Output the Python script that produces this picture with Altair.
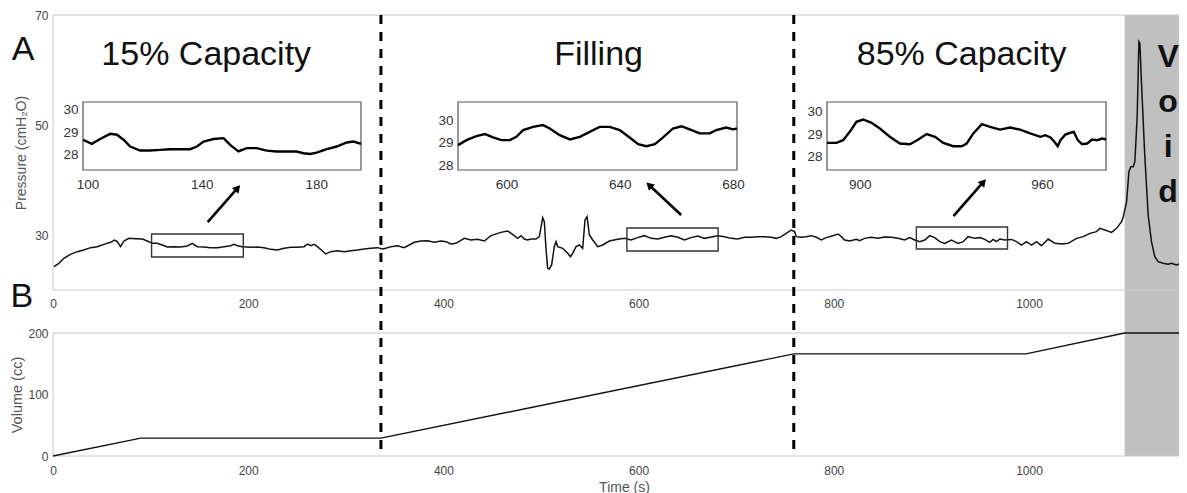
import math
import altair as alt
import pandas as pd

# ---------------- data ----------------
press_t = [0.9, 6, 11.1, 17.9, 24.8, 31.6, 38.5, 45.3, 52.1, 58.9, 63.1, 65.8, 69.2, 72.6, 77.8, 84.6, 91.5, 96.6,
           101.7, 106.8, 112, 117.1, 123.9, 130.8, 137.6, 142.7, 147.9, 154.7, 161.5, 168.4, 175.2, 182.1, 185.5,
           188.9, 194, 202.6, 209.4, 216.2, 223.1, 229.9, 236.8, 243.6, 250.4, 257.3, 260.7, 264.1, 267.5, 270.9,
           276.1, 279.5, 284.6, 291.5, 298.3, 305.1, 312, 318.8, 325.6, 332.5, 337.6, 341, 346.2, 353, 359.8, 365,
           370.1, 376.9, 383.8, 390.6, 397.4, 402.6, 407.7, 412.8, 421.4, 428.2, 435, 441.9, 448.7, 455.6, 459,
           465.8, 470.9, 476.1, 479.5, 482.9, 486.3, 489.7, 494.9, 498.3, 501.7, 503.4, 505.1, 506.8, 508.5, 510.9,
           513.6, 515.4, 517.1, 522.2, 527.4, 530.1, 532.5, 535.9, 539.3, 542.7, 545.1, 547.2, 549.6, 553, 558.1,
           563.2, 570.1, 578.6, 585.5, 592.3, 599.1, 606, 612.8, 619.7, 626.5, 633.3, 640.2, 647, 653.8, 660.7,
           667.5, 674.4, 681.2, 688, 694.9, 701.7, 708.5, 715.4, 722.2, 729.1, 735.9, 741, 746.2, 751.3, 756.4,
           759.8, 761.5, 766.7, 771.8, 776.9, 782.1, 787.2, 792.3, 799.1, 804.3, 807.7, 811.1, 816.2, 823.1, 826.5,
           831.6, 838.5, 845.3, 852.1, 859, 865.8, 872.6, 877.8, 882.9, 888, 893.2, 898.3, 903.4, 908.5, 913.7,
           920.5, 927.4, 932.5, 937.6, 944.4, 949.6, 954.7, 959.8, 963.2, 966.7, 970.1, 975.2, 982.1, 987.2, 992.3,
           997.4, 1002.6, 1007.7, 1012.8, 1019.7, 1026.5, 1033.3, 1040.2, 1048.7, 1055.6, 1062.4, 1069.2, 1072.6,
           1077.8, 1084.6, 1089.7, 1094.9, 1096.6, 1100, 1102.4, 1104.4, 1106.8, 1108.5, 1110.9, 1112.6, 1113.6,
           1115.2, 1118.6, 1122.1, 1125.5, 1128.9, 1132.3, 1137.4, 1142.6, 1146, 1151.1, 1156.2, 1163.1]
press_p = [24.24, 24.85, 25.76, 26.48, 26.97, 27.27, 27.70, 27.88, 28.30, 28.67, 29.09, 28.79, 27.88, 28.91, 29.39,
           29.33, 29.27, 28.91, 28.48, 28.48, 28.18, 27.82, 27.88, 27.82, 28.0, 28.48, 27.88, 27.82, 27.70, 27.70,
           27.88, 28.06, 28.30, 28.06, 27.88, 27.76, 27.82, 27.70, 27.39, 27.27, 27.58, 27.76, 27.76, 27.88, 28.36,
           28.06, 28.30, 27.88, 27.09, 26.55, 26.97, 27.15, 26.97, 27.15, 27.27, 27.45, 27.58, 27.70, 27.45, 27.58,
           27.88, 28.06, 27.70, 28.18, 28.67, 28.91, 28.97, 28.67, 28.91, 28.79, 28.36, 28.48, 29.39, 29.09, 29.21,
           28.91, 29.88, 30.30, 30.48, 30.73, 30.12, 29.39, 29.88, 29.27, 29.09, 29.27, 29.27, 29.70, 33.15, 32.42,
           27.58, 23.94, 23.82, 24.55, 27.88, 28.79, 27.88, 27.58, 26.67, 26.06, 26.67, 27.88, 28.18, 27.58, 32.73,
           33.33, 30.0, 29.09, 27.88, 28.18, 28.91, 29.21, 29.39, 29.09, 29.52, 29.88, 29.39, 29.27, 29.58, 29.88,
           29.58, 29.09, 29.52, 29.82, 29.39, 29.64, 29.88, 29.70, 29.39, 29.27, 29.58, 29.58, 29.70, 29.70, 29.58,
           29.39, 29.70, 30.30, 30.91, 30.61, 29.70, 29.58, 29.70, 29.88, 29.58, 29.09, 29.52, 29.88, 30.18, 29.70,
           29.09, 28.91, 29.21, 28.97, 29.39, 29.58, 29.39, 29.64, 29.58, 29.39, 29.09, 29.52, 29.09, 28.79, 29.09,
           29.88, 29.52, 28.79, 28.48, 29.09, 28.48, 28.79, 29.70, 29.39, 29.52, 29.21, 28.67, 29.21, 28.79, 29.27,
           29.09, 29.2, 28.79, 28.18, 28.79, 28.18, 28.79, 28.06, 29.27, 28.48, 28.36, 28.48, 29.39, 29.70, 30.30,
           30.61, 31.21, 30.91, 30.48, 31.21, 32.42, 33.33, 36.06, 41.52, 42.42, 42.42, 43.33, 51.82, 65.15, 64.85,
           57.88, 44.55, 33.64, 28.79, 26.06, 25.15, 24.85, 24.67, 24.85, 24.55, 24.85, 24.85]

vol_t = [0, 90, 336, 759, 997, 1098, 1170]
vol_v = [0, 29, 29, 166, 166, 200, 200]

phase_bounds = [336, 759]
void_span = [1098, 1200]

phase_labels = ["15% Capacity", "Filling", "85% Capacity"]
phase_label_t = [157, 559, 931]
phase_label_p = [60.9, 60.9, 60.9]

in1_t = [98.4, 101.5, 104.4, 107.9, 110.3, 112.6, 114.9, 118.4, 121.9, 125.4, 128.9, 132.4, 135.9, 138.3, 140.6,
         144.1, 147.6, 149.9, 152.8, 155.7, 159.2, 162.7, 166.2, 169.7, 173.2, 175.6, 177.9, 180.2, 183.7, 187.2,
         190.7, 193.1, 195.7]
in1_p = [28.67, 28.49, 28.70, 28.93, 28.89, 28.67, 28.37, 28.19, 28.19, 28.22, 28.25, 28.25, 28.25, 28.37, 28.59,
         28.70, 28.74, 28.44, 28.15, 28.30, 28.30, 28.19, 28.15, 28.15, 28.15, 28.07, 28.04, 28.10, 28.25, 28.37,
         28.55, 28.59, 28.49]
in2_t = [582.9, 585.9, 589.4, 592.4, 595.3, 598.2, 601.2, 603.5, 605.9, 609.4, 612.9, 615.3, 618.8, 622.4, 625.9,
         629.4, 632.9, 636.5, 640.0, 643.5, 646.5, 649.4, 652.4, 655.3, 658.8, 661.8, 664.7, 668.2, 671.8, 674.1,
         677.6, 680.0, 681.4]
in2_p = [28.89, 29.11, 29.29, 29.38, 29.23, 29.11, 29.11, 29.26, 29.56, 29.70, 29.78, 29.63, 29.33, 29.14, 29.26,
         29.48, 29.70, 29.70, 29.56, 29.23, 28.93, 28.84, 28.93, 29.23, 29.63, 29.73, 29.59, 29.41, 29.41, 29.56,
         29.67, 29.59, 29.63]
in3_t = [889.2, 892.3, 894.5, 896.7, 898.9, 901.1, 903.9, 906.6, 909.9, 913.2, 916.5, 919.3, 922.0, 924.8, 927.5,
         930.8, 933.6, 935.2, 937.4, 940.2, 942.9, 946.2, 949.5, 952.8, 956.1, 959.5, 961.1, 962.8, 964.1, 965.2,
         966.1, 967.7, 969.4, 970.5, 971.8, 973.2, 974.9, 976.5, 978.2, 979.8, 981.1]
in3_p = [28.62, 28.62, 28.74, 29.11, 29.56, 29.66, 29.51, 29.26, 28.89, 28.59, 28.56, 28.77, 29.01, 28.89, 28.62,
         28.47, 28.47, 28.59, 29.04, 29.45, 29.33, 29.21, 29.30, 29.21, 29.04, 28.89, 28.96, 28.86, 28.67, 28.47,
         28.74, 28.99, 29.07, 29.11, 28.74, 28.56, 28.59, 28.77, 28.74, 28.81, 28.77]

in1_xdom = [98.4, 195.7]; in1_ydom = [27.33, 30.34]; in1_xticks = [100, 140, 180]
in2_xdom = [582.9, 681.4]; in2_ydom = [27.78, 30.81]; in2_xticks = [600, 640, 680]
in3_xdom = [889.2, 981.1]; in3_ydom = [27.41, 30.44]; in3_xticks = [900, 960]
in_yticks = [28, 29, 30]

# zoom boxes on the main trace (t0, t1, p0, p1)
box_t0 = [101, 588, 884.6]
box_t1 = [195, 681.5, 978]
box_p0 = [26.0, 27.09, 27.45]
box_p1 = [30.18, 31.27, 31.45]

# arrows (from -> to)
arr_t0 = [158.5, 643.6, 922.6]
arr_p0 = [32.36, 33.64, 33.45]
arr_t1 = [189.2, 610.8, 953.3]
arr_p1 = [38.55, 39.09, 39.64]

x_ticks = [0, 200, 400, 600, 800, 1000]
p_ticks = [30, 50, 70]
v_ticks = [0, 100, 200]

# ---------------- layout ----------------
W, H = 1126, 441
XMAX = 1153.7
TOP_H = 275
VOL_TOP, VOL_BOT = 318, 441
IN_YR = [155, 87]
in1_xr = [30, 308]
in2_xr = [405, 684]
in3_xr = [774, 1053]
FONT = "Liberation Sans"
FRAME = "#c8c8c8"
LAB = "#444"


def xs():
    return alt.Scale(domain=[0, XMAX], range=[0, W])


def ps():
    return alt.Scale(domain=[20, 70], range=[TOP_H, 0])


def vs():
    return alt.Scale(domain=[0, 200], range=[VOL_BOT, VOL_TOP])


ax_common = dict(domain=False, ticks=False, grid=False, labelFont=FONT, labelFontSize=12, format="d",
                 labelColor=LAB, titleFont=FONT, titleFontWeight="normal", titleColor="#555", zindex=1)

top_x_axis = alt.Axis(values=x_ticks, orient="bottom", offset=TOP_H - H, labelPadding=8, labelFlush=False,
                      title=None, **ax_common)
p_axis = alt.Axis(values=p_ticks, orient="left", labelPadding=5, title="Pressure (cmH₂O)",
                  titleFontSize=14, titlePadding=6, **ax_common)
bot_x_axis = alt.Axis(values=x_ticks, orient="bottom", labelPadding=9, labelFlush=False, title="Time (s)",
                      titleFontSize=14, titlePadding=4, titleX=571, **ax_common)
v_axis = alt.Axis(values=v_ticks, orient="left", labelPadding=5, title="Volume (cc)", titleFontSize=14.5,
                  titlePadding=3, **ax_common)

layers = []

layers.append(alt.Chart(pd.DataFrame({"a": [void_span[0]], "b": [void_span[1]]})).mark_rect(
    color="#c0c0c0").encode(x=alt.X("a:Q", scale=xs(), axis=None), x2="b:Q", y=alt.value(0), y2=alt.value(H)))

layers.append(alt.Chart(pd.DataFrame({"x0": [0], "x1": [1200], "y0": [20], "y1": [70]})).mark_rect(
    fillOpacity=0, stroke=FRAME, strokeWidth=1).encode(
    x=alt.X("x0:Q", scale=xs(), axis=top_x_axis), x2="x1:Q",
    y=alt.Y("y0:Q", scale=ps(), axis=p_axis), y2="y1:Q"))

layers.append(alt.Chart(pd.DataFrame({"x0": [0], "x1": [1200], "y0": [0], "y1": [200]})).mark_rect(
    fillOpacity=0, stroke=FRAME, strokeWidth=1).encode(
    x=alt.X("x0:Q", scale=xs(), axis=bot_x_axis), x2="x1:Q",
    y=alt.Y("y0:Q", scale=vs(), axis=v_axis), y2="y1:Q"))

layers.append(alt.Chart(pd.DataFrame({"t": press_t, "p": press_p})).mark_line(
    color="#111", strokeWidth=1.5).encode(
    x=alt.X("t:Q", scale=xs(), axis=None), y=alt.Y("p:Q", scale=ps(), axis=None)))

layers.append(alt.Chart(pd.DataFrame({"t": vol_t, "v": vol_v})).mark_line(color="#111", strokeWidth=1.4).encode(
    x=alt.X("t:Q", scale=xs(), axis=None), y=alt.Y("v:Q", scale=vs(), axis=None)))

layers.append(alt.Chart(pd.DataFrame({"a": box_t0, "b": box_t1, "c": box_p0, "d": box_p1})).mark_rect(
    fillOpacity=0, stroke="#333", strokeWidth=1.4).encode(
    x=alt.X("a:Q", scale=xs(), axis=None), x2="b:Q", y=alt.Y("c:Q", scale=ps(), axis=None), y2="d:Q"))

arr_rows = []
for i in range(3):
    arr_rows.append({"id": i, "o": 0, "t": arr_t0[i], "p": arr_p0[i]})
    arr_rows.append({"id": i, "o": 1, "t": arr_t1[i], "p": arr_p1[i]})
layers.append(alt.Chart(pd.DataFrame(arr_rows)).mark_line(color="black", strokeWidth=2.6).encode(
    x=alt.X("t:Q", scale=xs(), axis=None), y=alt.Y("p:Q", scale=ps(), axis=None), detail="id:N", order="o:Q"))

pxx = W / XMAX
pxy = TOP_H / 50.0
heads = []
for i in range(3):
    ang = math.degrees(math.atan2((arr_t1[i] - arr_t0[i]) * pxx, (arr_p1[i] - arr_p0[i]) * pxy)) % 360
    heads.append({"t": arr_t1[i], "p": arr_p1[i], "ang": ang})
layers.append(alt.Chart(pd.DataFrame(heads)).mark_point(
    shape="triangle-up", filled=True, size=75, color="black", opacity=1).encode(
    x=alt.X("t:Q", scale=xs(), axis=None), y=alt.Y("p:Q", scale=ps(), axis=None),
    angle=alt.Angle("ang:Q", scale=None)))

layers.append(alt.Chart(pd.DataFrame({"lab": phase_labels, "t": phase_label_t, "p": phase_label_p})).mark_text(
    font=FONT, fontSize=34, color="#111", align="center", baseline="alphabetic").encode(
    x=alt.X("t:Q", scale=xs(), axis=None), y=alt.Y("p:Q", scale=ps(), axis=None), text="lab:N"))

layers.append(alt.Chart(pd.DataFrame({"lab": ["V\no\ni\nd"], "t": [1142.5], "p": [60.55]})).mark_text(
    font=FONT, fontSize=32, fontWeight="bold", color="#111", align="center", baseline="alphabetic",
    lineBreak="\n", lineHeight=45).encode(
    x=alt.X("t:Q", scale=xs(), axis=None), y=alt.Y("p:Q", scale=ps(), axis=None), text="lab:N"))

layers.append(alt.Chart(pd.DataFrame({"lab": ["A", "B"], "t": [-30.7, -31.8], "p": [61.8, 16.9]})).mark_text(
    font=FONT, fontSize=34, color="#111", align="center", baseline="alphabetic").encode(
    x=alt.X("t:Q", scale=xs(), axis=None), y=alt.Y("p:Q", scale=ps(), axis=None), text="lab:N"))

layers.append(alt.Chart(pd.DataFrame({"t": phase_bounds})).mark_rule(
    color="black", strokeWidth=3, strokeDash=[9, 8]).encode(
    x=alt.X("t:Q", scale=xs(), axis=None), y=alt.value(0), y2=alt.value(H)))


def inset(ts, ps_, xdom, ydom, xr, xticks):
    icommon = dict(domain=False, ticks=False, grid=False, labelFont=FONT, labelFontSize=13.5,
                   labelColor="#333", title=None, zindex=1, format="d")
    xa = alt.Axis(values=xticks, orient="bottom", offset=IN_YR[0] - H, labelPadding=7, labelFlush=False,
                  **icommon)
    ya = alt.Axis(values=in_yticks, orient="left", offset=-xr[0], labelPadding=5, labelFlush=False, **icommon)
    frame = alt.Chart(pd.DataFrame({"x0": [xdom[0]], "x1": [xdom[1]], "y0": [ydom[0]], "y1": [ydom[1]]})).mark_rect(
        fill="white", stroke="#555", strokeWidth=1.2).encode(
        x=alt.X("x0:Q", scale=alt.Scale(domain=xdom, range=xr), axis=xa), x2="x1:Q",
        y=alt.Y("y0:Q", scale=alt.Scale(domain=ydom, range=IN_YR), axis=ya), y2="y1:Q")
    line = alt.Chart(pd.DataFrame({"t": ts, "p": ps_})).mark_line(color="black", strokeWidth=2.4).encode(
        x=alt.X("t:Q", scale=alt.Scale(domain=xdom, range=xr), axis=None),
        y=alt.Y("p:Q", scale=alt.Scale(domain=ydom, range=IN_YR), axis=None))
    return [frame, line]


layers += inset(in1_t, in1_p, in1_xdom, in1_ydom, in1_xr, in1_xticks)
layers += inset(in2_t, in2_p, in2_xdom, in2_ydom, in2_xr, in2_xticks)
layers += inset(in3_t, in3_p, in3_xdom, in3_ydom, in3_xr, in3_xticks)

chart = alt.layer(*layers).resolve_scale(x="independent", y="independent").properties(
    width=W, height=H, padding={"left": 45, "top": 7, "right": 0, "bottom": 44},
    autosize=alt.AutoSizeParams(type="none"), background="white").configure_view(stroke=None)

chart.save("out.html", embed_options={"renderer": "svg", "actions": False})
